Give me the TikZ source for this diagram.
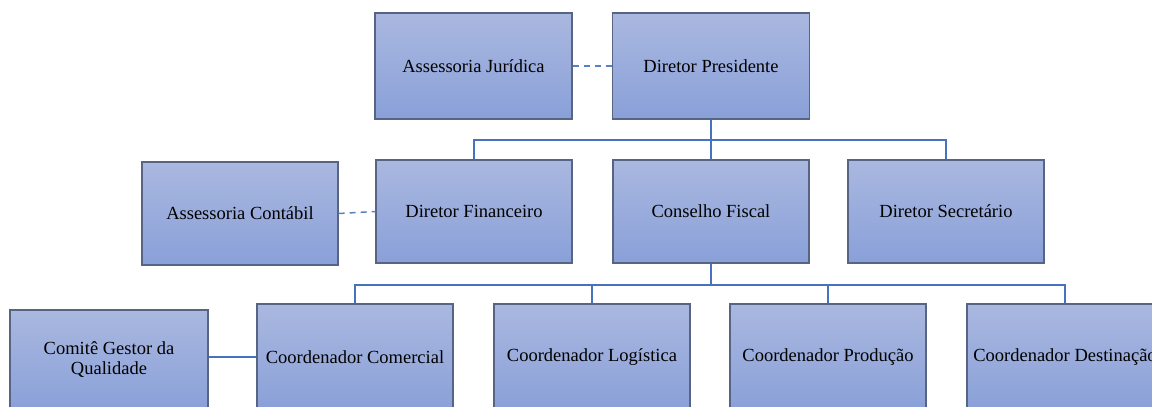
\documentclass[tikz,border=0pt]{standalone}
\usepackage{fontspec}
\setmainfont{Liberation Serif}
\definecolor{boxtop}{RGB}{170,184,224}
\definecolor{boxbot}{RGB}{137,160,216}
\definecolor{boxedge}{RGB}{88,100,132}
\definecolor{linkblue}{RGB}{70,114,190}
\begin{document}
\begin{tikzpicture}[x=1pt,y=-1pt,
  unit/.style={draw=boxedge, line width=1.2pt, top color=boxtop, bottom color=boxbot,
    minimum width=196pt, minimum height=104pt, inner sep=2pt, align=center,
    font=\fontsize{18.5}{20}\selectfont},
  link/.style={draw=linkblue, line width=1.6pt},
  aux/.style={draw=linkblue!90, line width=1.5pt, dash pattern=on 6pt off 5pt}]
\useasboundingbox (0,0) rectangle (1152,407);
\begin{scope}
\clip (0,0) rectangle (1152,407);
% top level
\node[unit, minimum width=197pt, minimum height=106pt] (aj) at (473.5,66) {Assessoria Jurídica};
\node[unit, minimum width=197pt, minimum height=106pt] (dp) at (711,66) {Diretor Presidente};
% second level
\node[unit, minimum height=103pt] (ac) at (240,213.5) {Assessoria Contábil};
\node[unit, minimum height=103pt] (df) at (474,211.5) {Diretor Financeiro};
\node[unit, minimum height=103pt] (cf) at (711,211.5) {Conselho Fiscal};
\node[unit, minimum height=103pt] (ds) at (946,211.5) {Diretor Secretário};
% third level
\node[unit, minimum width=198pt, minimum height=100pt] (cg) at (109,360) {Comitê Gestor da\\Qualidade};
\node[unit, minimum height=106pt] (cc) at (355,357) {Coordenador Comercial};
\node[unit, minimum height=106pt] (cl) at (592,357) {Coordenador Logística};
\node[unit, minimum height=106pt] (cp) at (828,357) {Coordenador Produção};
\node[unit, minimum height=106pt] (cd) at (1065,357) {Coordenador Destinação};
% junctions
\coordinate (j1) at (711,140);
\coordinate (j2) at (711,285);
% connectors
\draw[aux] (aj.east) -- (dp.west);
\draw[aux] (ac.east) -- (df.west);
\draw[link, line width=2.2pt] (dp.south) -- (j1);
\draw[link] (df.north) |- (j1) -| (ds.north);
\draw[link] (j1) -- (cf.north);
\draw[link, line width=2.2pt] (cf.south) -- (j2);
\draw[link] (cc.north) |- (j2) -| (cd.north);
\draw[link] (cl.north) |- (j2);
\draw[link] (cp.north) |- (j2);
\draw[link] (cg.east |- cc.west) -- (cc.west);
\end{scope}
\end{tikzpicture}
\end{document}
